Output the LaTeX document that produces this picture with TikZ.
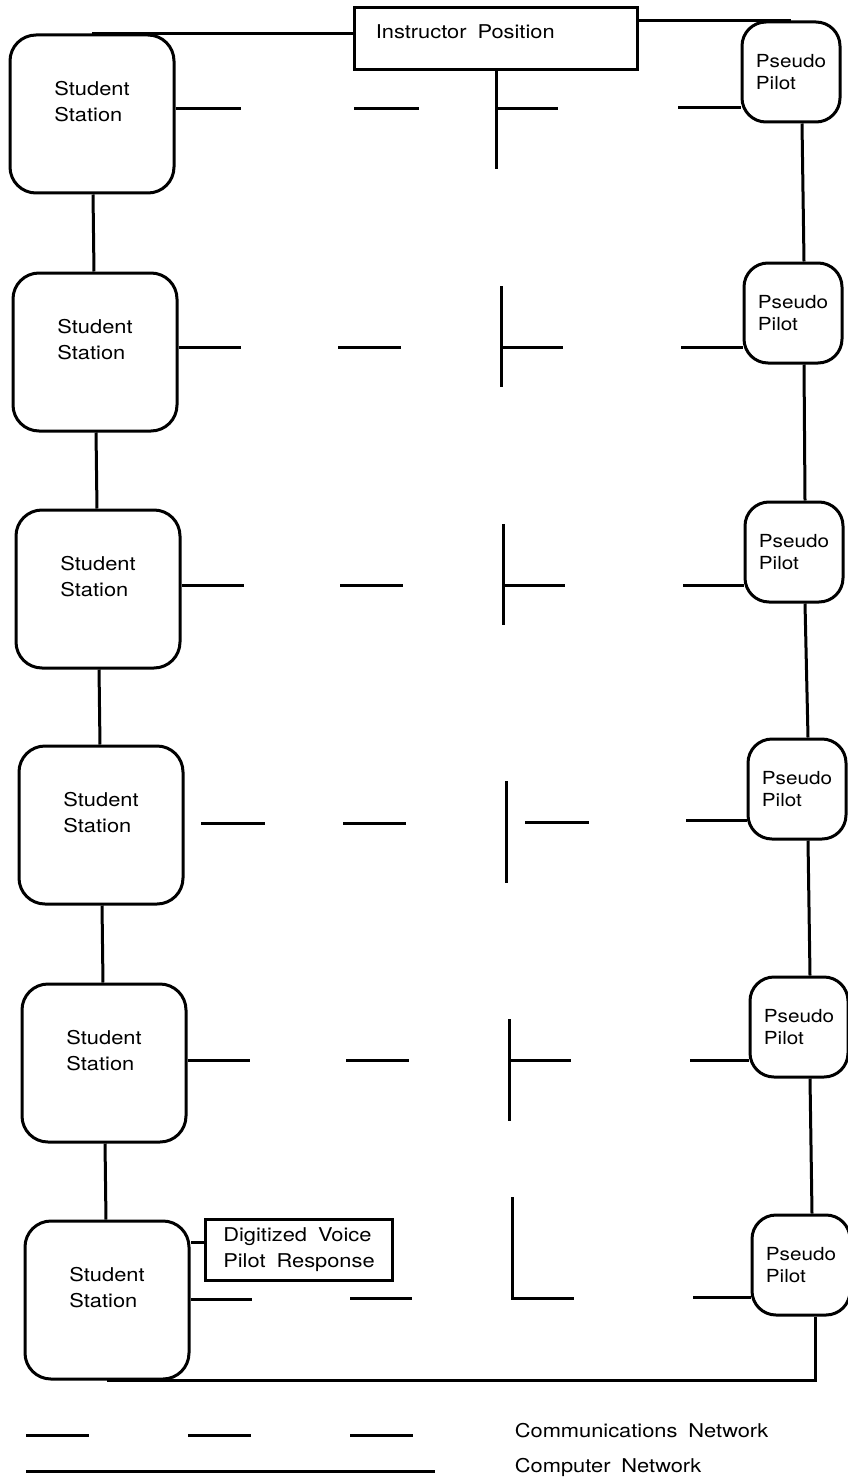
\documentclass[tikz,border=0pt]{standalone}
\usepackage{fontspec}
\setmainfont[FakeStretch=1.15, WordSpace=1.8]{TeX Gyre Heros}

\tikzset{
  station/.style={draw, rounded corners=26pt, minimum width=164pt, minimum height=158pt,
    label={[align=left, yshift=12pt]center:Student\\Station}},
  pilot/.style={draw, rounded corners=24pt, minimum width=98pt, minimum height=100pt,
    align=left, font=\fontsize{18}{22}\selectfont},
  plainbox/.style={draw},
  comm/.style={line cap=butt},
}

\begin{document}
\begin{tikzpicture}[x=1pt, y=-1pt, line width=3pt, font=\fontsize{19}{26}\selectfont]
    \useasboundingbox (0,0) rectangle (847,1479);

    % stations, pilots, instructor
    \node[station] (S1) at (92,114) {};
    \node[station] (S2) at (95,352) {};
    \node[station] (S3) at (98,589) {};
    \node[station] (S4) at (101,825) {};
    \node[station] (S5) at (104,1063) {};
    \node[station] (S6) at (107,1300) {};

    \node[pilot] (P1) at (791,72) {Pseudo\\Pilot};
    \node[pilot] (P2) at (793,313) {Pseudo\\Pilot};
    \node[pilot] (P3) at (794,552) {Pseudo\\Pilot};
    \node[pilot] (P4) at (797,789) {Pseudo\\Pilot};
    \node[pilot] (P5) at (799,1027) {Pseudo\\Pilot};
    \node[pilot] (P6) at (801,1265) {Pseudo\\Pilot};

    \node[plainbox, minimum width=283pt, minimum height=62pt,
      label={[anchor=west, xshift=18pt, yshift=7pt]west:Instructor Position}] (I) at (496,39) {};
    \node[plainbox, align=left, inner xsep=18pt, minimum width=184pt, minimum height=61pt] (D) at (299,1250) {Digitized Voice\\Pilot Response};

    % computer network
    \draw (S1.north) -- (S1.north -| I.west);
    \draw (P1.north) -- (P1.north -| I.east);
    \foreach \i/\j in {1/2,2/3,3/4,4/5,5/6}
        \draw (S\i) -- (S\j);
    \foreach \i/\j in {1/2,2/3,3/4,4/5,5/6}
        \draw ([xshift=11pt]P\i.south) -- ([xshift=11pt]P\j.north);
    \draw ([xshift=14pt]P6.south) |- (S6.south);
    \coordinate (Dw) at ([yshift=8pt]D.west);
    \draw (Dw) -- (Dw -| S6.east);

    % communications network
    \draw[comm] (S1.east |- 0,109) -- ++(65,0) (354,109) -- ++(65,0)
        (I.south) -- ++(0,98) (I.south |- 0,109) -- ++(62,0) (678,108) -- (P1.west |- 0,108);
    \foreach \i/\y/\d/\v/\vt/\vb/\p in {2/347/338/501/286/387/681, 3/585/340/503/524/625/683, 5/1060/346/509/1019/1121/690}
        \draw[comm] (S\i.east |- 0,\y) -- ++(62,0) (\d,\y) -- ++(63,0)
            (\v,\vt) -- (\v,\vb) (\v,\y) -- ++(62,0) (\p,\y) -- (P\i.west |- 0,\y);
    \draw[comm] (201,823) -- (265,823) (343,823) -- (406,823)
        (506,781) -- (506,883) (525,822) -- (589,822) (686,820) -- (P4.west |- 0,820);
    \draw[comm] (S6.east |- 0,1299) -- ++(61,0) (350,1298) -- (412,1298)
        (512,1197) |- (574,1298) (693,1297) -- (P6.west |- 0,1297);

    % legend
    \coordinate (c1) at (26,1435);
    \coordinate (c2) at (414,1435);
    \coordinate (n1) at (26,1471);
    \coordinate (n2) at (435,1471);
    \draw[comm, dash pattern=on 63pt off 99pt] (c1) -- (c2);
    \draw (n1) -- (n2);
    \node[anchor=west] (commtext) at (510,1431) {Communications Network};
    \node[anchor=west] (nettext) at (510,1467) {Computer Network};
\end{tikzpicture}
\end{document}
